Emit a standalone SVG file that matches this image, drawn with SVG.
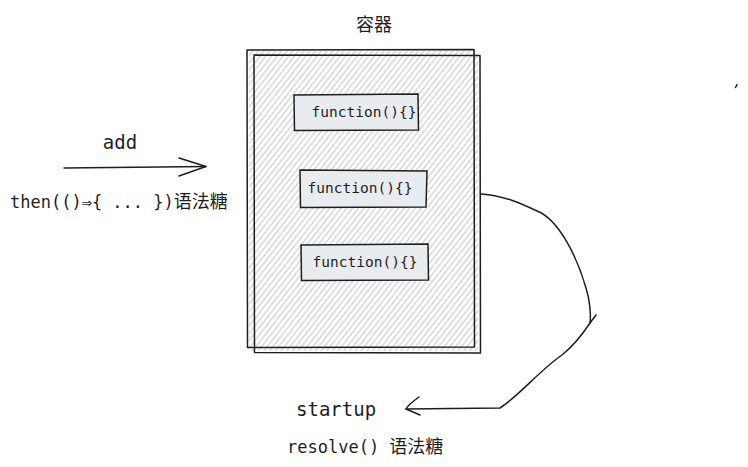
<svg xmlns="http://www.w3.org/2000/svg" width="748" height="467" viewBox="0 0 748 467">
  <defs>
    <pattern id="hatch" width="4.5" height="10" patternUnits="userSpaceOnUse" patternTransform="rotate(38)">
      <line x1="1" y1="0" x2="1" y2="10" stroke="#bfc1c4" stroke-width="1"/>
    </pattern>
  </defs>
  <style>
    .sk { fill: none; stroke: #1e1e1e; stroke-width: 1.5; stroke-linecap: round; stroke-linejoin: round; }
    .mono { font-family: "DejaVu Sans Mono", "Liberation Mono", "Noto Sans CJK SC", monospace; fill: #1e1e1e; }
    .cjk { font-family: "Noto Sans CJK SC", sans-serif; fill: #1e1e1e; }
    .fn { fill: #e9ecef; stroke: #1e1e1e; stroke-width: 1.5; }
  </style>
  <rect width="748" height="467" fill="#ffffff"/>

  <g id="container">
    <text class="cjk" x="374" y="31" font-size="18" text-anchor="middle">容器</text>
    <rect x="249" y="51" width="229" height="300" fill="url(#hatch)"/>
    <path class="sk" d="M247 50 L474 49.5 L474.5 347 L247.5 347.5 Z"/>
    <path class="sk" d="M254 55 L480 55.5 L480.5 353 L254.5 352.5 Z"/>
  </g>

  <g id="fn1">
    <path class="fn" d="M294 95 L418 94 L418.5 130 L294.5 130.5 Z"/>
    <text class="mono" x="364" y="117" font-size="14.5" text-anchor="middle">function(){}</text>
  </g>
  <g id="fn2">
    <path class="fn" d="M300 170 L427 171 L426 207 L300.5 207.5 Z"/>
    <text class="mono" x="360" y="193" font-size="14.5" text-anchor="middle">function(){}</text>
  </g>
  <g id="fn3">
    <path class="fn" d="M301 245 L428 244 L428.5 280 L301.5 280.5 Z"/>
    <text class="mono" x="365" y="267" font-size="14.5" text-anchor="middle">function(){}</text>
  </g>

  <g id="labels">
    <text class="mono" x="120" y="149" font-size="19" text-anchor="middle">add</text>
    <text class="mono" x="10" y="208" font-size="17">then(()⇒{ ... })<tspan class="cjk" font-size="18">语法糖</tspan></text>
    <text class="mono" x="296" y="416" font-size="19">startup</text>
    <text class="mono" x="287" y="453" font-size="17">resolve() <tspan class="cjk" font-size="18">语法糖</tspan></text>
  </g>

  <g id="connectors">
    <path class="sk" d="M64 168 L206 166.5"/>
    <path class="sk" d="M179 158 L206 166.5 L179 176"/>
    <path class="sk" d="M481 194 C505 196 520 203 537 211 C560 220 578 260 586 288 C590 300 591 315 590 323 L596 315"/>
    <path class="sk" d="M590 323 C582 335 572 347 562 355 C540 370 520 395 500 408 L406 409"/>
    <path class="sk" d="M419 397 C412 402 408 405 406 409 L420 415"/>
    <path class="sk" d="M735.5 87.5 L737 84.5" stroke-width="1.2"/>
  </g>
</svg>
